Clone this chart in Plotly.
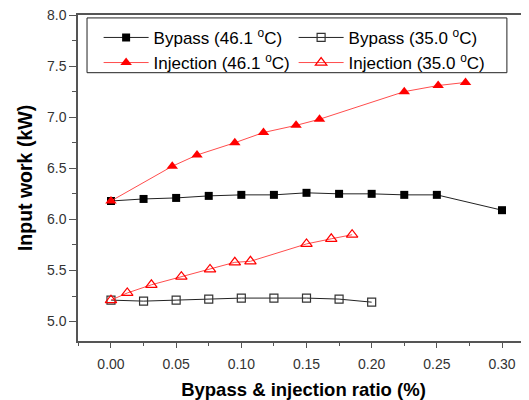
import plotly.graph_objects as go

bp46_x = [0.0, 0.025, 0.05, 0.075, 0.1, 0.125, 0.15, 0.175, 0.2, 0.225, 0.25, 0.30]
bp46_y = [6.18, 6.20, 6.21, 6.23, 6.24, 6.24, 6.26, 6.25, 6.25, 6.24, 6.24, 6.09]

bp35_x = [0.0, 0.025, 0.05, 0.075, 0.1, 0.125, 0.15, 0.175, 0.2]
bp35_y = [5.21, 5.20, 5.21, 5.22, 5.23, 5.23, 5.23, 5.22, 5.19]

inj46_x = [0.0, 0.047, 0.066, 0.095, 0.117, 0.142, 0.160, 0.225, 0.251, 0.272]
inj46_y = [6.18, 6.52, 6.63, 6.75, 6.85, 6.92, 6.98, 7.25, 7.31, 7.34]

inj35_x = [0.0, 0.0125, 0.031, 0.054, 0.076, 0.095, 0.107, 0.150, 0.169, 0.185]
inj35_y = [5.21, 5.28, 5.36, 5.44, 5.51, 5.58, 5.59, 5.76, 5.81, 5.85]

x_ticks = [0.0, 0.05, 0.10, 0.15, 0.20, 0.25, 0.30]
x_labels = ["0.00", "0.05", "0.10", "0.15", "0.20", "0.25", "0.30"]
y_ticks = [5.0, 5.5, 6.0, 6.5, 7.0, 7.5, 8.0]
y_labels = ["5.0", "5.5", "6.0", "6.5", "7.0", "7.5", "8.0"]

fig = go.Figure()
fig.add_trace(go.Scatter(x=bp46_x, y=bp46_y, mode="lines+markers",
                         name="Bypass (46.1 <sup>o</sup>C)",
                         line=dict(color="#222222", width=1),
                         marker=dict(symbol="square", size=8, color="black")))
fig.add_trace(go.Scatter(x=bp35_x, y=bp35_y, mode="lines+markers",
                         name="Bypass (35.0 <sup>o</sup>C)",
                         line=dict(color="#222222", width=1),
                         marker=dict(symbol="square-open", size=8, color="#333333",
                                     line=dict(width=1.2))))
fig.add_trace(go.Scatter(x=inj46_x, y=inj46_y, mode="lines+markers",
                         name="Injection (46.1 <sup>o</sup>C)",
                         line=dict(color="#ff4d4d", width=1),
                         marker=dict(symbol="triangle-up", size=10, color="red")))
fig.add_trace(go.Scatter(x=inj35_x, y=inj35_y, mode="lines+markers",
                         name="Injection (35.0 <sup>o</sup>C)",
                         line=dict(color="#ff4d4d", width=1),
                         marker=dict(symbol="triangle-up-open", size=10, color="red",
                                     line=dict(width=1.2))))

axis_font = dict(family="Liberation Sans, Arial, sans-serif", size=14, color="#333333")
fig.update_layout(
    width=521, height=392,
    margin=dict(l=70, r=0, t=7, b=59),
    paper_bgcolor="white", plot_bgcolor="white",
    font=dict(family="Liberation Sans, Arial, sans-serif", color="black"),
    showlegend=True,
    legend=dict(orientation="h", x=0.0457, y=0.985, xanchor="left", yanchor="top",
                borderwidth=0, bgcolor="rgba(0,0,0,0)",
                font=dict(size=17, color="black"),
                entrywidth=135, entrywidthmode="pixels",
                tracegroupgap=0, itemwidth=45),
    shapes=[dict(type="rect", xref="paper", yref="paper",
                 x0=0.02, x1=0.951, y0=0.823, y1=0.991,
                 line=dict(color="#222222", width=1), fillcolor="white", layer="above")],
    xaxis=dict(range=[-0.0253, 0.3207], tickvals=x_ticks, ticktext=x_labels,
               automargin=False, ticklabeloverflow="allow", ticklabelstandoff=4,
               showgrid=False, zeroline=False, showline=True, linecolor="#555555",
               linewidth=1.5, mirror=True, ticks="outside", ticklen=5, tickcolor="#555555",
               tickfont=axis_font,
               minor=dict(dtick=0.025, tick0=0, ticks="outside", ticklen=3, tickcolor="#555555"),
               title=dict(text="<b>Bypass & injection ratio (%)</b>", font=dict(size=18.5, color="black"),
                          standoff=13)),
    yaxis=dict(range=[4.81, 8.0], tickvals=y_ticks, ticktext=y_labels,
               automargin=False, ticklabeloverflow="allow",
               showgrid=False, zeroline=False, showline=True, linecolor="#555555",
               linewidth=1.5, mirror=True, ticks="outside", ticklen=7, tickcolor="#555555",
               tickfont=axis_font,
               minor=dict(dtick=0.25, tick0=5.0, ticks="outside", ticklen=4, tickcolor="#555555"),
               title=dict(text="<b>Input work (kW)</b>", font=dict(size=19.5, color="black"),
                          standoff=9)),
)

fig.write_html("out.html")
